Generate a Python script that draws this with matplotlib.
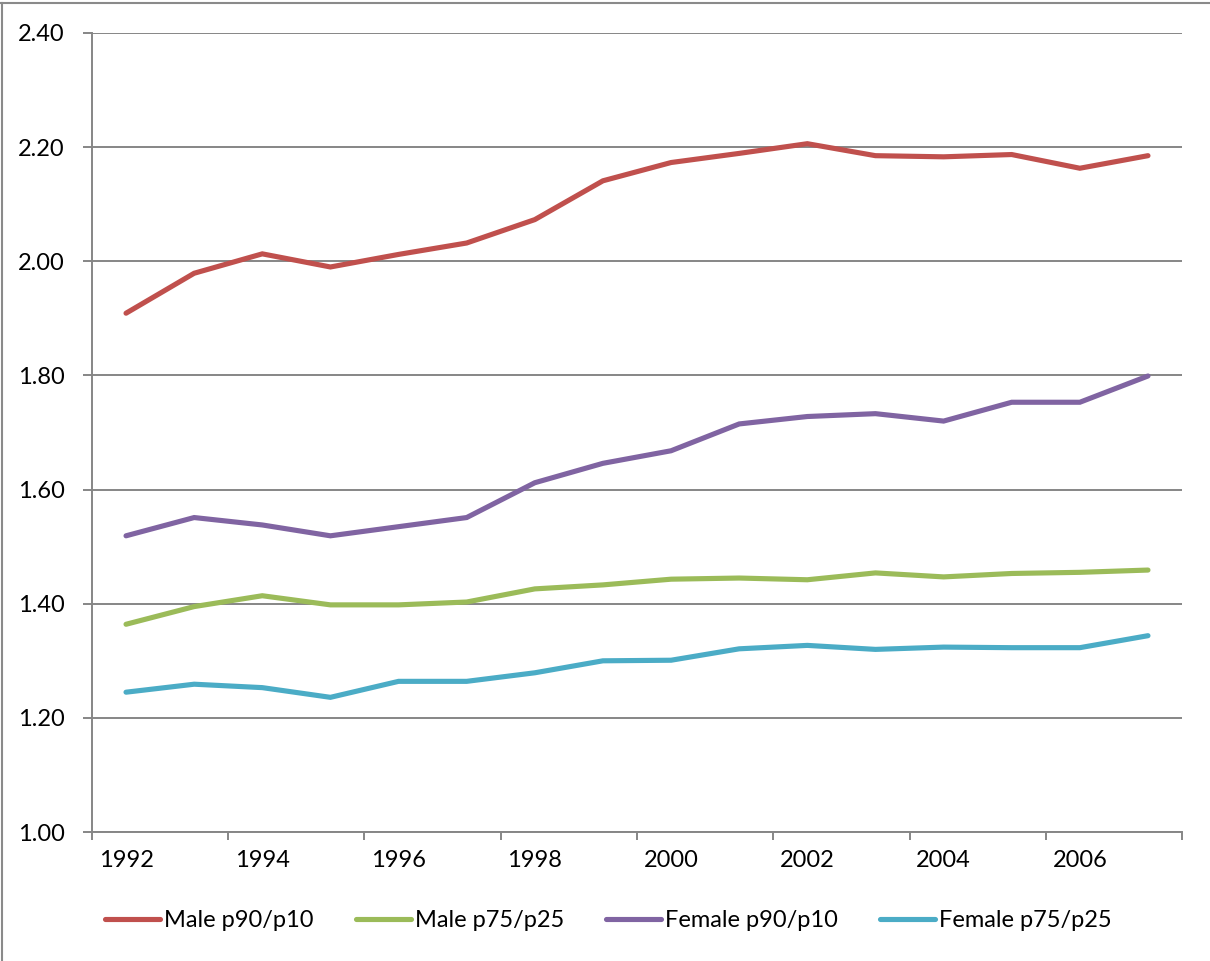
import matplotlib.pyplot as plt
from matplotlib.lines import Line2D
from matplotlib.ticker import FixedLocator, NullFormatter, FixedFormatter

# Datos
years = list(range(1992, 2008))
male_90_10 = [1.909, 1.979, 2.013, 1.990, 2.012, 2.032, 2.073, 2.141, 2.173, 2.189,
              2.206, 2.185, 2.183, 2.187, 2.163, 2.185]
male_75_25 = [1.364, 1.395, 1.414, 1.398, 1.398, 1.403, 1.426, 1.433, 1.443, 1.445,
              1.442, 1.454, 1.447, 1.453, 1.455, 1.459]
female_90_10 = [1.519, 1.551, 1.538, 1.519, 1.535, 1.551, 1.612, 1.646, 1.668, 1.715,
                1.728, 1.733, 1.720, 1.753, 1.753, 1.799]
female_75_25 = [1.245, 1.259, 1.253, 1.236, 1.264, 1.264, 1.279, 1.300, 1.301, 1.321,
                1.327, 1.320, 1.324, 1.323, 1.323, 1.344]

series = [
    ("Male p90/p10", male_90_10, "#C0504D"),
    ("Male p75/p25", male_75_25, "#9BBB59"),
    ("Female p90/p10", female_90_10, "#8064A2"),
    ("Female p75/p25", female_75_25, "#4BACC6"),
]

plt.rcParams['font.family'] = ['Lato', 'DejaVu Sans']
grid_gray = "#868686"
fsize = 17

fig = plt.figure(figsize=(12.10, 9.61), dpi=100)
ax = fig.add_axes([0.076, 0.1342, 0.9009, 0.8315])

x = list(range(len(years)))
for label, vals, color in series:
    ax.plot(x, vals, color=color, linewidth=3.7, label=label, solid_capstyle='round',
            solid_joinstyle='miter')

ax.set_xlim(-0.5, len(years) - 0.5)
ax.set_ylim(1.0, 2.4)

# Eje y
yticks = [1.0 + 0.2 * i for i in range(8)]
ax.set_yticks(yticks)
ax.set_yticklabels([f"{v:.2f}" for v in yticks])
ax.yaxis.grid(True, color=grid_gray, linewidth=1.4)
ax.set_axisbelow(True)

# Eje x: marcas entre categorias cada 2, etiquetas en el centro
ax.xaxis.set_major_locator(FixedLocator([i - 0.5 for i in range(0, len(years) + 1, 2)]))
ax.xaxis.set_major_formatter(NullFormatter())
ax.xaxis.set_minor_locator(FixedLocator(x[::2]))
ax.xaxis.set_minor_formatter(FixedFormatter([str(y) for y in years[::2]]))

ax.tick_params(axis='x', which='major', length=6, width=1.4, color=grid_gray, direction='out')
ax.tick_params(axis='x', which='minor', length=0, pad=13, labelsize=fsize)
ax.tick_params(axis='y', length=6.5, width=1.4, color=grid_gray, pad=13, labelsize=fsize)

for side in ['top', 'right']:
    ax.spines[side].set_visible(False)
for side in ['left', 'bottom']:
    ax.spines[side].set_color(grid_gray)
    ax.spines[side].set_linewidth(1.4)

fig.legend(loc='center', bbox_to_anchor=(0.503, 0.042), ncol=4, frameon=False,
           fontsize=fsize, handlelength=2.33, handletextpad=0.17, columnspacing=1.78)

# Marco del grafico (arriba e izquierda)
fig.add_artist(Line2D([0, 1], [0.997, 0.997], transform=fig.transFigure, color="#8a8a8a", linewidth=1.5))
fig.add_artist(Line2D([0.0015, 0.0015], [0, 0.997], transform=fig.transFigure, color="#8a8a8a", linewidth=1.5))

fig.savefig("out.png", dpi=100)
